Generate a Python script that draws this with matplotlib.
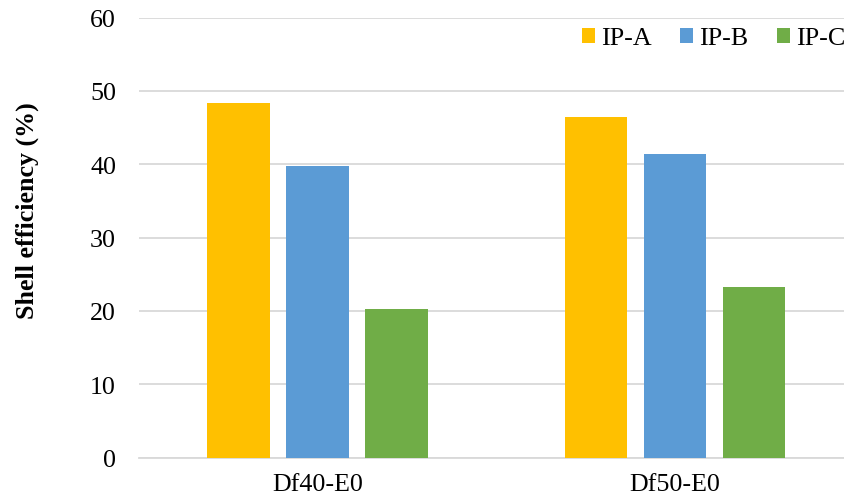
import numpy as np
import matplotlib.pyplot as plt

plt.rcParams['font.family'] = ['Liberation Serif', 'DejaVu Serif']

categories = ['Df40-E0', 'Df50-E0']
series = ['IP-A', 'IP-B', 'IP-C']
ip_a = [48.3, 46.5]
ip_b = [39.8, 41.4]
ip_c = [20.3, 23.3]
colors = ['#FFC000', '#5B9BD5', '#70AD47']
fs = 18.7

fig = plt.figure(figsize=(8.45, 5.02), dpi=100)
ax = fig.add_axes([139 / 845, 1 - 458.5 / 502, 706 / 845, (458.5 - 18.7) / 502])

x = np.arange(len(categories))
width = 0.175
step = 0.221
for i, (vals, name) in enumerate(zip([ip_a, ip_b, ip_c], series)):
    ax.bar(x + (i - 1) * step, vals, width, color=colors[i], label=name, zorder=3)

ax.set_xlim(-0.5, 1.4755)
ax.set_ylim(0, 60)
ax.set_yticks(np.arange(0, 61, 10))
ax.set_xticks(x)
ax.set_xticklabels(categories)
ax.grid(axis='y', color='#d9d9d9', linewidth=1.3, zorder=0)
for side in ['top', 'right', 'left']:
    ax.spines[side].set_visible(False)
ax.spines['bottom'].set_color('#d9d9d9')
ax.spines['bottom'].set_linewidth(1.3)
ax.tick_params(axis='both', length=0, labelsize=fs)
ax.tick_params(axis='y', pad=16.5)
ax.tick_params(axis='x', pad=11)

fig.text(27.5 / 845, 1 - 211 / 502, 'Shell efficiency (%)', rotation=90,
         fontsize=fs, fontweight='bold', ha='center', va='center')

ax.legend(loc='center right', bbox_to_anchor=(1.0, (458.5 - 39.5) / 439.8), ncol=3,
          frameon=False, fontsize=fs, handlelength=0.51, handleheight=0.51,
          handletextpad=0.23, columnspacing=1.08, borderaxespad=0, borderpad=0)

fig.savefig('out.png', dpi=100)
